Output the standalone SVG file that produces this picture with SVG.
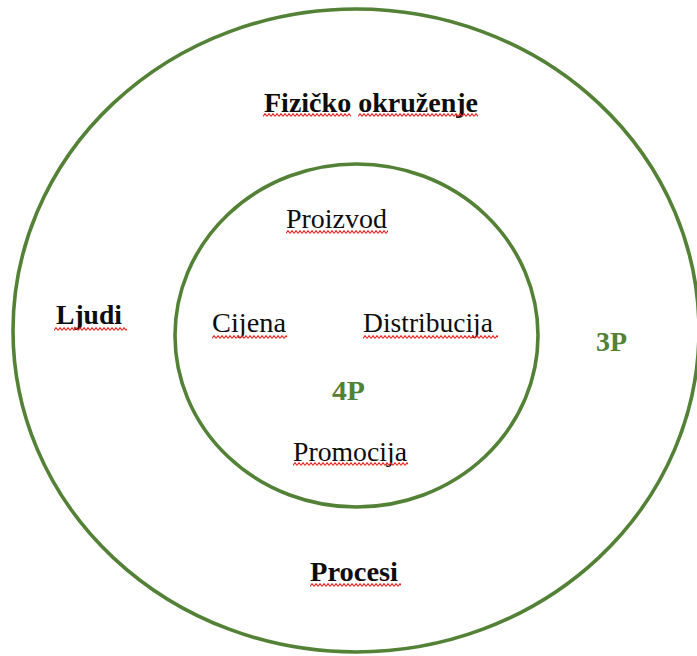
<svg xmlns="http://www.w3.org/2000/svg" width="697" height="656" viewBox="0 0 697 656">
<style>
.ring{fill:none;stroke:#538135;stroke-width:3.6}
.t{font-family:"Liberation Serif","Times New Roman",serif;font-size:27px;fill:#0d0d0d}
.b{font-weight:bold}
.g{font-family:"Liberation Serif","Times New Roman",serif;font-size:27px;font-weight:bold;fill:#538135}
.sq{fill:url(#sq)}
</style>
<defs>
<pattern id="sq" width="4" height="4" patternUnits="userSpaceOnUse">
<path d="M0 3.3 L2 0.7 L4 3.3" fill="none" stroke="#e8231f" stroke-width="1.1"/>
</pattern>
</defs>
<rect width="697" height="656" fill="#fff"/>
<g id="outer-ring"><ellipse class="ring" cx="356" cy="330.5" rx="343" ry="321.5"/></g>
<g id="inner-ring"><ellipse class="ring" cx="356.5" cy="335.5" rx="181.5" ry="171.5"/></g>
<g id="connectors"/>
<g id="fizicko-okruzenje">
<text class="t b" x="264" y="112" textLength="214" lengthAdjust="spacingAndGlyphs">Fizičko okruženje</text>
<rect class="sq" transform="translate(263,113)" width="88" height="4"/>
<rect class="sq" transform="translate(358,113)" width="120" height="4"/>
</g>
<g id="proizvod">
<text class="t" x="286" y="228" textLength="101" lengthAdjust="spacingAndGlyphs">Proizvod</text>
<rect class="sq" transform="translate(286,230)" width="102" height="4"/>
</g>
<g id="ljudi">
<text class="t b" x="56" y="324" textLength="66" lengthAdjust="spacingAndGlyphs">Ljudi</text>
<rect class="sq" transform="translate(54,327)" width="73" height="4"/>
</g>
<g id="cijena">
<text class="t" x="212" y="332" textLength="74" lengthAdjust="spacingAndGlyphs">Cijena</text>
<rect class="sq" transform="translate(212,335)" width="75" height="4"/>
</g>
<g id="distribucija">
<text class="t" x="363" y="332" textLength="130" lengthAdjust="spacingAndGlyphs">Distribucija</text>
<rect class="sq" transform="translate(363,335)" width="135" height="4"/>
</g>
<g id="label-3p">
<text class="g" x="596" y="351" textLength="31" lengthAdjust="spacingAndGlyphs">3P</text>
</g>
<g id="label-4p">
<text class="g" x="332" y="400" textLength="33" lengthAdjust="spacingAndGlyphs">4P</text>
</g>
<g id="promocija">
<text class="t" x="293" y="461" textLength="114" lengthAdjust="spacingAndGlyphs">Promocija</text>
<rect class="sq" transform="translate(293,462)" width="115" height="4"/>
</g>
<g id="procesi">
<text class="t b" x="310" y="581" textLength="88" lengthAdjust="spacingAndGlyphs">Procesi</text>
<rect class="sq" transform="translate(310,583)" width="91" height="4"/>
</g>
</svg>
